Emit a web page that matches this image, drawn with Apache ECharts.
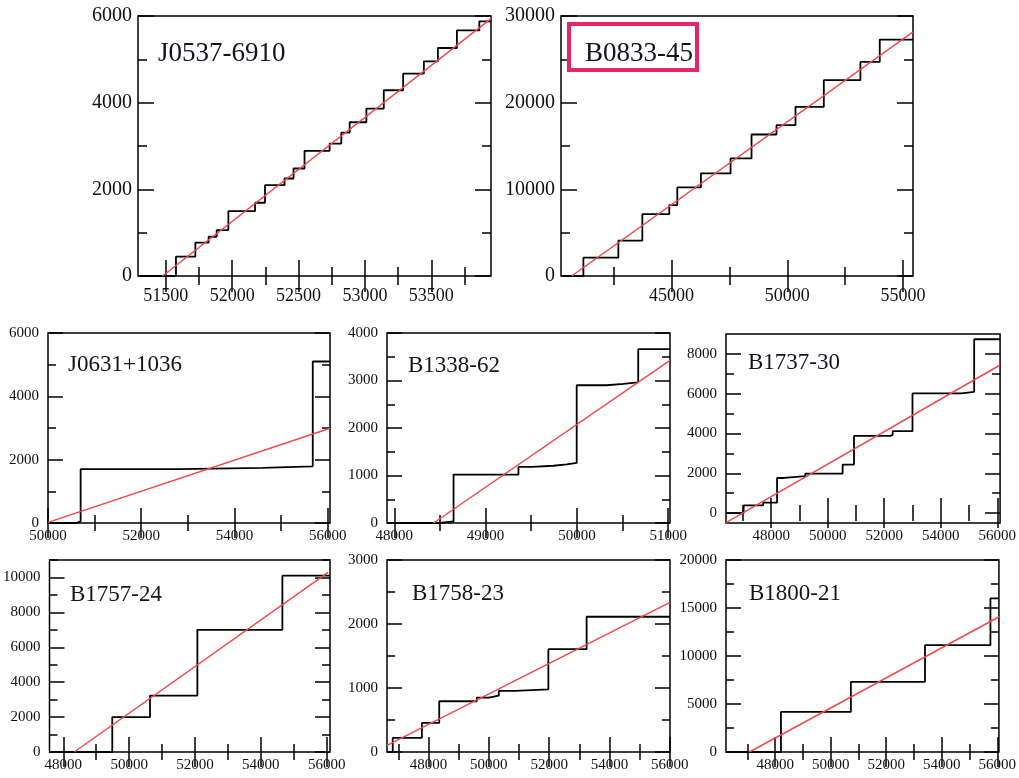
<!DOCTYPE html>
<html>
<head>
<meta charset="utf-8">
<script src="https://cdn.jsdelivr.net/npm/echarts@6/dist/echarts.min.js"></script>
<style>
  html, body { margin: 0; padding: 0; background: #fff; }
  #chart { width: 1019px; height: 778px; }
</style>
</head>
<body>
<div id="chart"></div>
<script>
// ---- Pulsar glitch histories: epoch (MJD) of each glitch and the cumulative value after it ----

// J0537-6910
const j0537GlitchMjd = [51576, 51722, 51822, 51883, 51971, 52172, 52247, 52394, 52462, 52545, 52734, 52822, 52885, 53011, 53142, 53288, 53444, 53550, 53693, 53862];
const j0537Cumulative = [445, 768, 906, 1060, 1498, 1690, 2097, 2250, 2481, 2888, 3057, 3310, 3548, 3863, 4286, 4670, 4954, 5261, 5668, 5876];
const j0537FitMjd = [51475, 53950];
const j0537FitVal = [0, 5940];
const j0537XTicks = [51500, 52000, 52500, 53000, 53500];
const j0537XMinor = [51750, 52250, 52750, 53250, 53750];
const j0537YTicks = [0, 2000, 4000, 6000];
const j0537YMinor = [1000, 3000, 5000];

// B0833-45 (Vela)
const b0833GlitchMjd = [41187, 42698, 43734, 44899, 45245, 46266, 47547, 48453, 49532, 50353, 51576, 53158, 53993];
const b0833Cumulative = [2113, 4072, 7146, 8183, 10219, 11833, 13561, 16327, 17403, 19516, 22590, 24702, 27276];
const b0833FitMjd = [40683, 55430];
const b0833FitVal = [0, 28160];
const b0833XTicks = [45000, 50000, 55000];
const b0833XMinor = [42500, 47500, 52500];
const b0833YTicks = [0, 10000, 20000, 30000];
const b0833YMinor = [5000, 15000, 25000];

// J0631+1036
const j0631GlitchMjd = [50607, 50700, 52821, 54607, 55680];
const j0631Cumulative = [50, 1700, 1742, 1790, 5100];
const j0631FitMjd = [50000, 56050];
const j0631FitVal = [20, 2990];
const j0631XTicks = [50000, 52000, 54000, 56000];
const j0631XMinor = [51000, 53000, 55000];
const j0631YTicks = [0, 2000, 4000, 6000];
const j0631YMinor = [1000, 3000, 5000];

// B1338-62
const b1338GlitchMjd = [48500, 48649, 49360, 49506, 49743, 49888, 49998, 50326, 50508, 50672];
const b1338Cumulative = [35, 1020, 1180, 1205, 1235, 1265, 2900, 2930, 2960, 3660];
const b1338FitMjd = [48430, 51020];
const b1338FitVal = [0, 3425];
const b1338XTicks = [48000, 49000, 50000, 51000];
const b1338XMinor = [48500, 49500, 50500];
const b1338YTicks = [0, 1000, 2000, 3000, 4000];
const b1338YMinor = [500, 1500, 2500, 3500];

// B1737-30
const b1737GlitchMjd = [47024, 47714, 48207, 48459, 49207, 50528, 50931, 52217, 52300, 53000, 54724, 55183];
const b1737Cumulative = [388, 520, 1763, 1860, 1985, 2438, 3879, 3930, 4116, 6015, 6096, 8735];
const b1737FitMjd = [46400, 56100];
const b1737FitVal = [-484, 7441];
const b1737XTicks = [48000, 50000, 52000, 54000, 56000];
const b1737XMinor = [47000, 49000, 51000, 53000, 55000];
const b1737YTicks = [0, 2000, 4000, 6000, 8000];
const b1737YMinor = [1000, 3000, 5000, 7000];

// B1757-24
const b1757GlitchMjd = [49487, 50633, 52072, 54654];
const b1757Cumulative = [2000, 3230, 7000, 10100];
const b1757FitMjd = [48332, 56042];
const b1757FitVal = [0, 10288];
const b1757XTicks = [48000, 50000, 52000, 54000, 56000];
const b1757XMinor = [49000, 51000, 53000, 55000];
const b1757YTicks = [0, 2000, 4000, 6000, 8000, 10000];
const b1757YMinor = [1000, 3000, 5000, 7000, 9000, 11000];

// B1758-23
const b1758GlitchMjd = [46810, 47779, 48353, 49600, 50000, 50330, 50870, 51974, 53243];
const b1758Cumulative = [220, 454, 793, 850, 880, 955, 980, 1607, 2113];
const b1758FitMjd = [46620, 56010];
const b1758FitVal = [104, 2337];
const b1758XTicks = [48000, 50000, 52000, 54000, 56000];
const b1758XMinor = [47000, 49000, 51000, 53000, 55000];
const b1758YTicks = [0, 1000, 2000, 3000];
const b1758YMinor = [500, 1500, 2500];

// B1800-21
const b1800GlitchMjd = [48209, 50728, 53398, 55754];
const b1800Cumulative = [4174, 7304, 11130, 16000];
const b1800FitMjd = [47071, 56067];
const b1800FitVal = [0, 14087];
const b1800XTicks = [48000, 50000, 52000, 54000, 56000];
const b1800XMinor = [47000, 49000, 51000, 53000, 55000];
const b1800YTicks = [0, 5000, 10000, 15000, 20000];
const b1800YMinor = [2500, 7500, 12500, 17500];

// ---- Panel layout ----
const panels = [
  { name: 'J0537-6910', rect: [138, 16, 353, 260], x: [51290, 53950], y: [0, 6000],
    mjd: j0537GlitchMjd, val: j0537Cumulative, fitX: j0537FitMjd, fitY: j0537FitVal,
    xt: j0537XTicks, xm: j0537XMinor, yt: j0537YTicks, ym: j0537YMinor, big: true, title: [158, 57] },
  { name: 'B0833-45', rect: [561, 16, 352, 260], x: [40220, 55430], y: [0, 30000],
    mjd: b0833GlitchMjd, val: b0833Cumulative, fitX: b0833FitMjd, fitY: b0833FitVal,
    xt: b0833XTicks, xm: b0833XMinor, yt: b0833YTicks, ym: b0833YMinor, big: true, title: [585, 57] },
  { name: 'J0631+1036', rect: [48, 333, 282, 190], x: [50000, 56050], y: [0, 6000],
    mjd: j0631GlitchMjd, val: j0631Cumulative, fitX: j0631FitMjd, fitY: j0631FitVal,
    xt: j0631XTicks, xm: j0631XMinor, yt: j0631YTicks, ym: j0631YMinor, title: [68, 367] },
  { name: 'B1338-62', rect: [387, 333, 283, 190], x: [47920, 51020], y: [0, 4000],
    mjd: b1338GlitchMjd, val: b1338Cumulative, fitX: b1338FitMjd, fitY: b1338FitVal,
    xt: b1338XTicks, xm: b1338XMinor, yt: b1338YTicks, ym: b1338YMinor, title: [408, 368] },
  { name: 'B1737-30', rect: [726, 334, 281, 189], x: [46400, 56100], y: [-500, 9000],
    mjd: b1737GlitchMjd, val: b1737Cumulative, fitX: b1737FitMjd, fitY: b1737FitVal,
    xt: b1737XTicks, xm: b1737XMinor, yt: b1737YTicks, ym: b1737YMinor, title: [748, 365] },
  { name: 'B1757-24', rect: [48, 560, 282, 192], x: [47580, 56100], y: [0, 11000],
    mjd: b1757GlitchMjd, val: b1757Cumulative, fitX: b1757FitMjd, fitY: b1757FitVal,
    xt: b1757XTicks, xm: b1757XMinor, yt: b1757YTicks, ym: b1757YMinor, title: [70, 597] },
  { name: 'B1758-23', rect: [387, 560, 283, 192], x: [46620, 56010], y: [0, 3000],
    mjd: b1758GlitchMjd, val: b1758Cumulative, fitX: b1758FitMjd, fitY: b1758FitVal,
    xt: b1758XTicks, xm: b1758XMinor, yt: b1758YTicks, ym: b1758YMinor, title: [412, 596] },
  { name: 'B1800-21', rect: [726, 560, 282, 192], x: [46230, 56060], y: [0, 20000],
    mjd: b1800GlitchMjd, val: b1800Cumulative, fitX: b1800FitMjd, fitY: b1800FitVal,
    xt: b1800XTicks, xm: b1800XMinor, yt: b1800YTicks, ym: b1800YMinor, title: [749, 596] }
];

const SERIF = '"Liberation Serif", "Times New Roman", serif';
const grid = [], xAxis = [], yAxis = [], series = [], graphic = [];

panels.forEach((p, gi) => {
  const [left, top, width, height] = p.rect;
  grid.push({ left, top, width, height, show: true, borderColor: '#000', borderWidth: 1.5,
              backgroundColor: 'transparent', containLabel: false });

  const majorLen = p.big ? 16 : 15;
  const minorLen = p.big ? 9 : 8;
  const xFont = p.big ? 18 : 15;
  const yFont = p.big ? 20 : 15;
  const tickStyle = { color: '#000', width: 1.5 };

  const mkAxis = (dim, position, ticks, len, labels) => {
    const range = dim === 'x' ? p.x : p.y;
    return {
      type: 'value', gridIndex: gi, position, min: range[0], max: range[1],
      axisLine: { show: false }, splitLine: { show: false },
      axisTick: { show: true, inside: true, length: len, customValues: ticks, lineStyle: tickStyle },
      axisLabel: labels ? {
        show: true, customValues: ticks, fontFamily: SERIF,
        fontSize: dim === 'x' ? xFont : yFont, color: '#111',
        margin: dim === 'x' ? (p.big ? 11 : 6) : (p.big ? 6 : 9),
        formatter: v => String(v)
      } : { show: false }
    };
  };

  const xBase = xAxis.length;
  xAxis.push(mkAxis('x', 'bottom', p.xt, majorLen, true));
  xAxis.push(mkAxis('x', 'bottom', p.xm, minorLen, false));
  xAxis.push(mkAxis('x', 'top', p.xt, majorLen, false));
  xAxis.push(mkAxis('x', 'top', p.xm, minorLen, false));

  const yBase = yAxis.length;
  yAxis.push(mkAxis('y', 'left', p.yt, majorLen, true));
  yAxis.push(mkAxis('y', 'left', p.ym, minorLen, false));
  yAxis.push(mkAxis('y', 'right', p.yt, majorLen, false));
  yAxis.push(mkAxis('y', 'right', p.ym, minorLen, false));

  // cumulative step curve: flat at zero before the first glitch, flat to the right edge after the last
  const steps = [[p.x[0], 0]];
  p.mjd.forEach((m, i) => steps.push([m, p.val[i]]));
  steps.push([p.x[1], p.val[p.val.length - 1]]);

  series.push({
    type: 'line', xAxisIndex: xBase, yAxisIndex: yBase, data: steps, step: 'end',
    showSymbol: false, symbol: 'none', clip: true, silent: true,
    lineStyle: { color: '#000', width: 1.8 }, z: 3
  });
  series.push({
    type: 'line', xAxisIndex: xBase, yAxisIndex: yBase,
    data: p.fitX.map((m, i) => [m, p.fitY[i]]),
    showSymbol: false, symbol: 'none', clip: true, silent: true,
    lineStyle: { color: '#f24a4a', width: 1.5 }, z: 4
  });

  graphic.push({
    type: 'text', left: p.title[0], top: p.title[1] - (p.big ? 17 : 14), z: 10,
    style: { text: p.name, font: (p.big ? 27 : 23) + 'px ' + SERIF, fill: '#141420' }
  });
});

// highlight frame around the Vela label
graphic.push({
  type: 'rect', z: 11,
  shape: { x: 569, y: 24, width: 128, height: 46 },
  style: { fill: 'none', stroke: '#e8246a', lineWidth: 4 }
});

const chart = echarts.init(document.getElementById('chart'), null, { renderer: 'canvas' });
chart.setOption({ animation: false, backgroundColor: '#fff', grid, xAxis, yAxis, series, graphic });
</script>
</body>
</html>
